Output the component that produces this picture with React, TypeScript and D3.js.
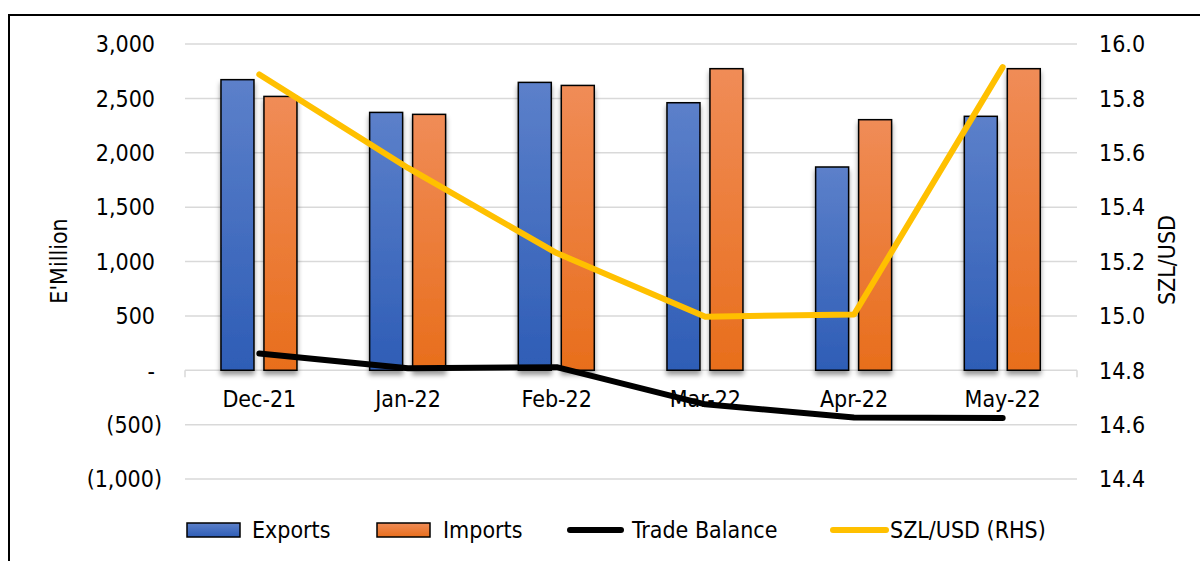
import React from "react";
import * as d3 from "d3";

const categories = ["Dec-21", "Jan-22", "Feb-22", "Mar-22", "Apr-22", "May-22"];
const exportsVals = [2672, 2371, 2647, 2460, 1869, 2335];
const importsVals = [2518, 2353, 2619, 2773, 2304, 2773];
const tradeBalance = [154, 18, 28, -313, -435, -438];
const szlUsd = [15.888, 15.544, 15.231, 14.997, 15.005, 15.915];
const leftTicks = [-1000, -500, 0, 500, 1000, 1500, 2000, 2500, 3000];
const rightTicks = [14.4, 14.6, 14.8, 15.0, 15.2, 15.4, 15.6, 15.8, 16.0];
const seriesNames = ["Exports", "Imports", "Trade Balance", "SZL/USD (RHS)"];

const W = 1200;
const H = 561;
const plotL = 185;
const plotR = 1077;
const plotT = 44;
const plotB = 479;
const FONT = "'DejaVu Sans Condensed', 'DejaVu Sans', sans-serif";
const FS = 23;

function fmtLeft(v: number): string {
  if (v === 0) return "-";
  const s = d3.format(",")(Math.abs(v));
  return v < 0 ? `(${s})` : s;
}

export default function App() {
  const x0 = d3.scaleBand<string>().domain(categories).range([plotL, plotR]).paddingInner(0).paddingOuter(0);
  const bw = x0.bandwidth();
  const x1 = d3
    .scaleBand<string>()
    .domain(["Exports", "Imports"])
    .range([bw * 0.242, bw * 0.753])
    .paddingInner(0.2326)
    .paddingOuter(0);
  const yL = d3.scaleLinear().domain([-1000, 3000]).range([plotB, plotT]);
  const yR = d3.scaleLinear().domain([14.4, 16.0]).range([plotB, plotT]);
  const cx = (c: string) => (x0(c) as number) + bw / 2;

  const tbLine = d3
    .line<number>()
    .x((_, i) => cx(categories[i]))
    .y((d) => yL(d));
  const fxLine = d3
    .line<number>()
    .x((_, i) => cx(categories[i]))
    .y((d) => yR(d));

  const legendY = 530;

  return (
    <svg
      width={W}
      height={H}
      style={{ position: "absolute", left: 0, top: 0, background: "#fff" }}
      fontFamily={FONT}
      fontStretch="condensed"
    >
      <defs>
        <linearGradient id="gBlue" x1="0" y1="0" x2="0" y2="1">
          <stop offset="0%" stopColor="#5C80CA" />
          <stop offset="100%" stopColor="#2E5DB6" />
        </linearGradient>
        <linearGradient id="gOrange" x1="0" y1="0" x2="0" y2="1">
          <stop offset="0%" stopColor="#F08C57" />
          <stop offset="100%" stopColor="#E86E1C" />
        </linearGradient>
        <filter id="shadow" x="-30%" y="-10%" width="160%" height="130%">
          <feDropShadow dx="0" dy="4" stdDeviation="2.5" floodColor="#000" floodOpacity="0.4" />
        </filter>
      </defs>

      <rect x={9} y={15} width={W + 10} height={H + 10} fill="#fff" stroke="#000" strokeWidth={2} />

      {leftTicks.map((t) => (
        <line key={"g" + t} x1={plotL} x2={plotR} y1={yL(t)} y2={yL(t)} stroke="#d9d9d9" strokeWidth={1.5} />
      ))}
      <line x1={plotL} x2={plotL} y1={yL(0)} y2={yL(0) + 7} stroke="#d9d9d9" strokeWidth={1.5} />
      <line x1={plotR} x2={plotR} y1={yL(0)} y2={yL(0) + 7} stroke="#d9d9d9" strokeWidth={1.5} />

      {leftTicks.map((t) => (
        <text key={"l" + t} x={t < 0 ? 162 : 155} y={yL(t)} dy="0.36em" textAnchor="end" fontSize={FS} fill="#000">
          {fmtLeft(t)}
        </text>
      ))}
      {rightTicks.map((t) => (
        <text key={"r" + t} x={1099} y={yR(t)} dy="0.36em" textAnchor="start" fontSize={FS} fill="#000">
          {d3.format(".1f")(t)}
        </text>
      ))}

      <text transform="translate(67,261) rotate(-90)" textAnchor="middle" fontSize={FS} fill="#000">
        E'Million
      </text>
      <text transform="translate(1175,260) rotate(-90)" textAnchor="middle" fontSize={FS} fill="#000">
        SZL/USD
      </text>

      {categories.map((c, i) => (
        <g key={"b" + c} filter="url(#shadow)">
          <rect
            x={(x0(c) as number) + (x1("Exports") as number)}
            y={yL(exportsVals[i])}
            width={x1.bandwidth()}
            height={yL(0) - yL(exportsVals[i])}
            fill="url(#gBlue)"
            stroke="#000"
            strokeWidth={1.5}
          />
          <rect
            x={(x0(c) as number) + (x1("Imports") as number)}
            y={yL(importsVals[i])}
            width={x1.bandwidth()}
            height={yL(0) - yL(importsVals[i])}
            fill="url(#gOrange)"
            stroke="#000"
            strokeWidth={1.5}
          />
        </g>
      ))}

      {categories.map((c) => (
        <text key={"c" + c} x={cx(c)} y={407} textAnchor="middle" fontSize={FS} fill="#000">
          {c}
        </text>
      ))}

      <path d={fxLine(szlUsd) as string} fill="none" stroke="#FFC000" strokeWidth={6} strokeLinejoin="round" strokeLinecap="round" />
      <path d={tbLine(tradeBalance) as string} fill="none" stroke="#000" strokeWidth={6} strokeLinejoin="round" strokeLinecap="round" />

      <g fontSize={FS} fill="#000">
        <rect x={187} y={legendY - 7} width={53} height={14} fill="url(#gBlue)" stroke="#000" strokeWidth={1.5} />
        <text x={252} y={legendY} dy="0.36em">{seriesNames[0]}</text>
        <rect x={377} y={legendY - 7} width={53} height={14} fill="url(#gOrange)" stroke="#000" strokeWidth={1.5} />
        <text x={443} y={legendY} dy="0.36em">{seriesNames[1]}</text>
        <line x1={570} x2={621} y1={legendY} y2={legendY} stroke="#000" strokeWidth={6} strokeLinecap="round" />
        <text x={632} y={legendY} dy="0.36em">{seriesNames[2]}</text>
        <line x1={833} x2={886} y1={legendY} y2={legendY} stroke="#FFC000" strokeWidth={6} strokeLinecap="round" />
        <text x={890} y={legendY} dy="0.36em">{seriesNames[3]}</text>
      </g>
    </svg>
  );
}
